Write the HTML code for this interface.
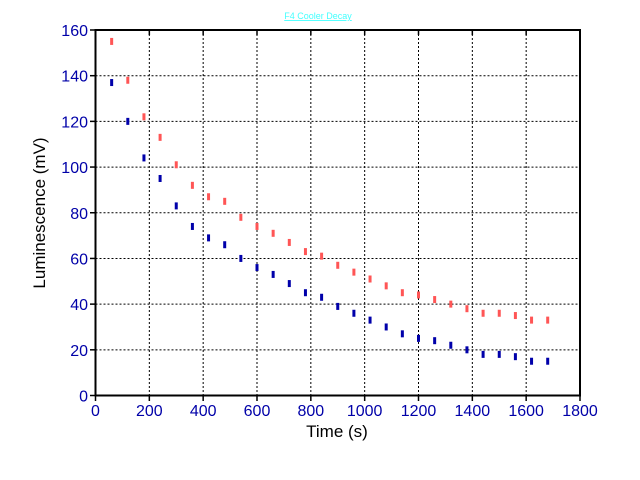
<!DOCTYPE html>
<html><head><meta charset="utf-8"><style>html,body{margin:0;padding:0;background:#fff;}svg{display:block;}</style></head>
<body>
<svg width="640" height="480" xmlns="http://www.w3.org/2000/svg" font-family="Liberation Sans, sans-serif">
<rect width="640" height="480" fill="#fff"/>
<text x="318" y="19" font-size="9" fill="#44ffff" text-anchor="middle" text-decoration="underline">F4 Cooler Decay</text>
<g id="grid" stroke="#000" stroke-width="1" stroke-dasharray="2,2"></g>
<g id="frame" stroke="#000" stroke-width="2" fill="none">
<rect x="95.5" y="30" width="484.5" height="365.5"/>
</g>
<g id="ticks" stroke="#000" stroke-width="1.5"></g>
<g id="lab" font-size="16" fill="#0000a8"></g>
<g id="pts"></g>
<text x="337" y="437" font-size="17" text-anchor="middle" fill="#000">Time (s)</text>
<text transform="translate(45,213) rotate(-90)" font-size="17" text-anchor="middle" fill="#000">Luminescence (mV)</text>
<script>
var ns="http://www.w3.org/2000/svg";
function X(v){return 95.5+v*(484.5/1800);}
function Y(v){return 395.5-v*(365.5/160);}
function el(p,t,a,txt){var e=document.createElementNS(ns,t);for(var k in a)e.setAttribute(k,a[k]);if(txt!=null)e.textContent=txt;document.getElementById(p).appendChild(e);}
for(var i=200;i<1800;i+=200){el("grid","line",{x1:X(i),x2:X(i),y1:30,y2:395.5});}
for(var j=20;j<160;j+=20){el("grid","line",{x1:95.5,x2:580,y1:Y(j),y2:Y(j)});}
for(var i=0;i<=1800;i+=200){el("ticks","line",{x1:X(i),x2:X(i),y1:395.5,y2:401});el("ticks","line",{x1:X(i),x2:X(i),y1:30,y2:35});
el("lab","text",{x:X(i),y:416,"text-anchor":"middle"},i);}
for(var j=0;j<=160;j+=20){el("ticks","line",{x1:90,x2:95.5,y1:Y(j),y2:Y(j)});
el("lab","text",{x:88,y:Y(j)+6,"text-anchor":"end"},j);}
var r=[155,138,122,113,101,92,87,85,78,74,71,67,63,61,57,54,51,48,45,44,42,40,38,36,36,35,33,33];
var b=[137,120,104,95,83,74,69,66,60,56,53,49,45,43,39,36,33,30,27,25,24,22,20,18,18,17,15,15];
for(var k=0;k<28;k++){var t=60*(k+1);
el("pts","rect",{x:X(t)-1.5,y:Y(r[k])-3.5,width:3,height:7,fill:"#ff5555"});
el("pts","rect",{x:X(t)-1.5,y:Y(b[k])-3.5,width:3,height:7,fill:"#0000aa"});}
</script>
</svg>
</body></html>
